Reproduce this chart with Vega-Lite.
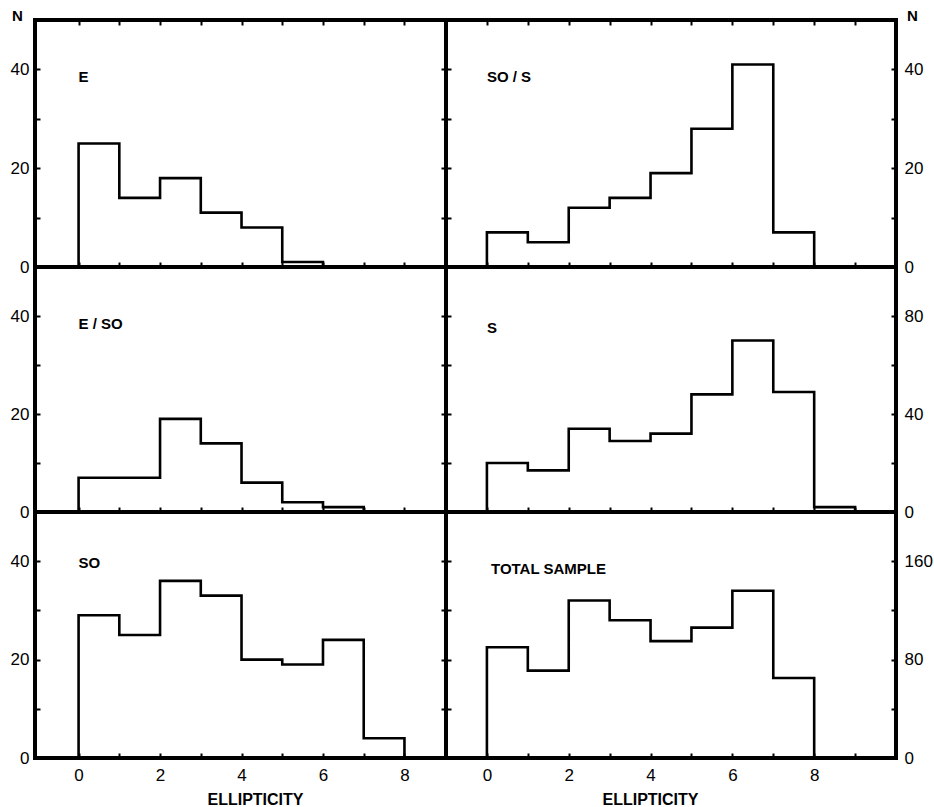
{
  "$schema": "https://vega.github.io/schema/vega-lite/v6.json",
  "padding": {"left": 8, "top": 6, "right": 4, "bottom": 2},
  "background": "white",
  "datasets": {
    "hist": [
      {"panel": "E", "lo": 0, "n": 25}, {"panel": "E", "lo": 1, "n": 14}, {"panel": "E", "lo": 2, "n": 18},
      {"panel": "E", "lo": 3, "n": 11}, {"panel": "E", "lo": 4, "n": 8}, {"panel": "E", "lo": 5, "n": 1},
      {"panel": "E", "lo": 6, "n": 0},
      {"panel": "SO/S", "lo": 0, "n": 7}, {"panel": "SO/S", "lo": 1, "n": 5}, {"panel": "SO/S", "lo": 2, "n": 12},
      {"panel": "SO/S", "lo": 3, "n": 14}, {"panel": "SO/S", "lo": 4, "n": 19}, {"panel": "SO/S", "lo": 5, "n": 28},
      {"panel": "SO/S", "lo": 6, "n": 41}, {"panel": "SO/S", "lo": 7, "n": 7}, {"panel": "SO/S", "lo": 8, "n": 0},
      {"panel": "E/SO", "lo": 0, "n": 7}, {"panel": "E/SO", "lo": 1, "n": 7}, {"panel": "E/SO", "lo": 2, "n": 19},
      {"panel": "E/SO", "lo": 3, "n": 14}, {"panel": "E/SO", "lo": 4, "n": 6}, {"panel": "E/SO", "lo": 5, "n": 2},
      {"panel": "E/SO", "lo": 6, "n": 1}, {"panel": "E/SO", "lo": 7, "n": 0},
      {"panel": "S", "lo": 0, "n": 20}, {"panel": "S", "lo": 1, "n": 17}, {"panel": "S", "lo": 2, "n": 34},
      {"panel": "S", "lo": 3, "n": 29}, {"panel": "S", "lo": 4, "n": 32}, {"panel": "S", "lo": 5, "n": 48},
      {"panel": "S", "lo": 6, "n": 70}, {"panel": "S", "lo": 7, "n": 49}, {"panel": "S", "lo": 8, "n": 2},
      {"panel": "S", "lo": 9, "n": 0},
      {"panel": "SO", "lo": 0, "n": 29}, {"panel": "SO", "lo": 1, "n": 25}, {"panel": "SO", "lo": 2, "n": 36},
      {"panel": "SO", "lo": 3, "n": 33}, {"panel": "SO", "lo": 4, "n": 20}, {"panel": "SO", "lo": 5, "n": 19},
      {"panel": "SO", "lo": 6, "n": 24}, {"panel": "SO", "lo": 7, "n": 4}, {"panel": "SO", "lo": 8, "n": 0},
      {"panel": "TOTAL", "lo": 0, "n": 90}, {"panel": "TOTAL", "lo": 1, "n": 71}, {"panel": "TOTAL", "lo": 2, "n": 128},
      {"panel": "TOTAL", "lo": 3, "n": 112}, {"panel": "TOTAL", "lo": 4, "n": 95}, {"panel": "TOTAL", "lo": 5, "n": 106},
      {"panel": "TOTAL", "lo": 6, "n": 136}, {"panel": "TOTAL", "lo": 7, "n": 65}, {"panel": "TOTAL", "lo": 8, "n": 0}
    ]
  },
  "columns": 2,
  "spacing": 0,
  "bounds": "flush",
  "concat": [
    {
      "width": 411, "height": 247,
      "layer": [
        {
          "data": {"name": "hist"},
          "transform": [{"filter": "datum.panel === 'E'"}],
          "mark": {"type": "area", "interpolate": "step-after", "fill": "white", "fillOpacity": 0, "stroke": "black", "strokeWidth": 2.6},
          "encoding": {
            "x": {"field": "lo", "type": "quantitative", "scale": {"domain": [-1.07, 9.02], "nice": false, "zero": false},
                  "axis": {"orient": "bottom", "values": [0, 1, 2, 3, 4, 5, 6, 7, 8], "labels": false, "title": null}},
            "y": {"field": "n", "type": "quantitative", "stack": null, "scale": {"domain": [0, 50], "nice": false},
                  "axis": {"orient": "left", "values": [0, 10, 20, 30, 40], "labelExpr": "datum.value % 20 === 0 ? datum.label : ''", "labelPadding": 11,
                           "title": "N", "titleAngle": 0, "titleX": -18, "titleY": 0, "titleAlign": "center", "titleBaseline": "alphabetic", "titleFontSize": 15}}
          }
        },
        {
          "data": {"values": [{"label": "E"}]},
          "mark": {"type": "text", "align": "left", "baseline": "middle", "font": "Liberation Sans", "fontWeight": "bold", "fontSize": 15},
          "encoding": {
            "x": {"datum": 0, "type": "quantitative", "axis": {"orient": "top", "values": [0, 1, 2, 3, 4, 5, 6, 7, 8], "labels": false, "title": null}},
            "y": {"datum": 38.4, "type": "quantitative", "axis": {"orient": "right", "values": [10, 20, 30, 40], "labels": false, "title": null}},
            "text": {"field": "label"}
          }
        }
      ],
      "resolve": {"axis": {"x": "independent", "y": "independent"}}
    },
    {
      "width": 450, "height": 247,
      "layer": [
        {
          "data": {"name": "hist"},
          "transform": [{"filter": "datum.panel === 'SO/S'"}],
          "mark": {"type": "area", "interpolate": "step-after", "fill": "white", "fillOpacity": 0, "stroke": "black", "strokeWidth": 2.6},
          "encoding": {
            "x": {"field": "lo", "type": "quantitative", "scale": {"domain": [-1, 10], "nice": false, "zero": false},
                  "axis": {"orient": "bottom", "values": [0, 1, 2, 3, 4, 5, 6, 7, 8, 9], "labels": false, "title": null}},
            "y": {"field": "n", "type": "quantitative", "stack": null, "scale": {"domain": [0, 50], "nice": false},
                  "axis": {"orient": "right", "values": [0, 10, 20, 30, 40], "labelExpr": "datum.value % 20 === 0 ? datum.label : ''", "labelPadding": 13,
                           "title": "N", "titleAngle": 0, "titleX": 16, "titleY": 0, "titleAlign": "center", "titleBaseline": "alphabetic", "titleFontSize": 15}}
          }
        },
        {
          "data": {"values": [{"label": "SO / S"}]},
          "mark": {"type": "text", "align": "left", "baseline": "middle", "font": "Liberation Sans", "fontWeight": "bold", "fontSize": 15},
          "encoding": {
            "x": {"datum": 0, "type": "quantitative", "axis": {"orient": "top", "values": [0, 1, 2, 3, 4, 5, 6, 7, 8, 9], "labels": false, "title": null}},
            "y": {"datum": 38.4, "type": "quantitative", "axis": {"orient": "left", "values": [10, 20, 30, 40], "labels": false, "title": null}},
            "text": {"field": "label"}
          }
        }
      ],
      "resolve": {"axis": {"x": "independent", "y": "independent"}}
    },
    {
      "width": 411, "height": 245,
      "layer": [
        {
          "data": {"name": "hist"},
          "transform": [{"filter": "datum.panel === 'E/SO'"}],
          "mark": {"type": "area", "interpolate": "step-after", "fill": "white", "fillOpacity": 0, "stroke": "black", "strokeWidth": 2.6},
          "encoding": {
            "x": {"field": "lo", "type": "quantitative", "scale": {"domain": [-1.07, 9.02], "nice": false, "zero": false},
                  "axis": {"orient": "bottom", "values": [0, 1, 2, 3, 4, 5, 6, 7, 8], "labels": false, "title": null}},
            "y": {"field": "n", "type": "quantitative", "stack": null, "scale": {"domain": [0, 50], "nice": false},
                  "axis": {"orient": "left", "values": [0, 10, 20, 30, 40], "labelExpr": "datum.value % 20 === 0 ? datum.label : ''", "labelPadding": 11, "title": null}}
          }
        },
        {
          "data": {"values": [{"label": "E / SO"}]},
          "mark": {"type": "text", "align": "left", "baseline": "middle", "font": "Liberation Sans", "fontWeight": "bold", "fontSize": 15},
          "encoding": {
            "x": {"datum": 0, "type": "quantitative", "axis": null},
            "y": {"datum": 38.4, "type": "quantitative", "axis": {"orient": "right", "values": [10, 20, 30, 40], "labels": false, "title": null}},
            "text": {"field": "label"}
          }
        }
      ],
      "resolve": {"axis": {"x": "independent", "y": "independent"}}
    },
    {
      "width": 450, "height": 245,
      "layer": [
        {
          "data": {"name": "hist"},
          "transform": [{"filter": "datum.panel === 'S'"}],
          "mark": {"type": "area", "interpolate": "step-after", "fill": "white", "fillOpacity": 0, "stroke": "black", "strokeWidth": 2.6},
          "encoding": {
            "x": {"field": "lo", "type": "quantitative", "scale": {"domain": [-1, 10], "nice": false, "zero": false},
                  "axis": {"orient": "bottom", "values": [0, 1, 2, 3, 4, 5, 6, 7, 8, 9], "labels": false, "title": null}},
            "y": {"field": "n", "type": "quantitative", "stack": null, "scale": {"domain": [0, 100], "nice": false},
                  "axis": {"orient": "right", "values": [0, 20, 40, 60, 80], "labelExpr": "datum.value % 40 === 0 ? datum.label : ''", "labelPadding": 13, "title": null}}
          }
        },
        {
          "data": {"values": [{"label": "S"}]},
          "mark": {"type": "text", "align": "left", "baseline": "middle", "font": "Liberation Sans", "fontWeight": "bold", "fontSize": 15},
          "encoding": {
            "x": {"datum": 0, "type": "quantitative", "axis": null},
            "y": {"datum": 75.3, "type": "quantitative", "axis": {"orient": "left", "values": [20, 40, 60, 80], "labels": false, "title": null}},
            "text": {"field": "label"}
          }
        }
      ],
      "resolve": {"axis": {"x": "independent", "y": "independent"}}
    },
    {
      "width": 411, "height": 246,
      "layer": [
        {
          "data": {"name": "hist"},
          "transform": [{"filter": "datum.panel === 'SO'"}],
          "mark": {"type": "area", "interpolate": "step-after", "fill": "white", "fillOpacity": 0, "stroke": "black", "strokeWidth": 2.6},
          "encoding": {
            "x": {"field": "lo", "type": "quantitative", "scale": {"domain": [-1.07, 9.02], "nice": false, "zero": false},
                  "axis": {"orient": "bottom", "values": [0, 1, 2, 3, 4, 5, 6, 7, 8], "labelExpr": "datum.value % 2 === 0 ? datum.label : ''", "labelPadding": 14,
                           "title": "ELLIPTICITY", "titleX": 220, "titleY": 46, "titleAlign": "center", "titleBaseline": "alphabetic"}},
            "y": {"field": "n", "type": "quantitative", "stack": null, "scale": {"domain": [0, 50], "nice": false},
                  "axis": {"orient": "left", "values": [0, 10, 20, 30, 40], "labelExpr": "datum.value % 20 === 0 ? datum.label : ''", "labelPadding": 11, "title": null}}
          }
        },
        {
          "data": {"values": [{"label": "SO"}]},
          "mark": {"type": "text", "align": "left", "baseline": "middle", "font": "Liberation Sans", "fontWeight": "bold", "fontSize": 15},
          "encoding": {
            "x": {"datum": 0, "type": "quantitative", "axis": null},
            "y": {"datum": 39.6, "type": "quantitative", "axis": {"orient": "right", "values": [10, 20, 30, 40], "labels": false, "title": null}},
            "text": {"field": "label"}
          }
        }
      ],
      "resolve": {"axis": {"x": "independent", "y": "independent"}}
    },
    {
      "width": 450, "height": 246,
      "layer": [
        {
          "data": {"name": "hist"},
          "transform": [{"filter": "datum.panel === 'TOTAL'"}],
          "mark": {"type": "area", "interpolate": "step-after", "fill": "white", "fillOpacity": 0, "stroke": "black", "strokeWidth": 2.6},
          "encoding": {
            "x": {"field": "lo", "type": "quantitative", "scale": {"domain": [-1, 10], "nice": false, "zero": false},
                  "axis": {"orient": "bottom", "values": [0, 1, 2, 3, 4, 5, 6, 7, 8, 9], "labelExpr": "datum.value % 2 === 0 ? datum.label : ''", "labelPadding": 14,
                           "title": "ELLIPTICITY", "titleX": 204, "titleY": 46, "titleAlign": "center", "titleBaseline": "alphabetic"}},
            "y": {"field": "n", "type": "quantitative", "stack": null, "scale": {"domain": [0, 200], "nice": false},
                  "axis": {"orient": "right", "values": [0, 40, 80, 120, 160], "labelExpr": "datum.value % 80 === 0 ? datum.label : ''", "labelPadding": 13, "title": null}}
          }
        },
        {
          "data": {"values": [{"label": "TOTAL SAMPLE"}]},
          "mark": {"type": "text", "align": "left", "baseline": "middle", "font": "Liberation Sans", "fontWeight": "bold", "fontSize": 15},
          "encoding": {
            "x": {"datum": 0.1, "type": "quantitative", "axis": null},
            "y": {"datum": 154, "type": "quantitative", "axis": {"orient": "left", "values": [40, 80, 120, 160], "labels": false, "title": null}},
            "text": {"field": "label"}
          }
        }
      ],
      "resolve": {"axis": {"x": "independent", "y": "independent"}}
    }
  ],
  "config": {
    "view": {"stroke": "black", "strokeWidth": 4},
    "axis": {
      "domain": false, "grid": false, "ticks": true,
      "tickColor": "black", "tickWidth": 2, "tickSize": -5,
      "labelFont": "Liberation Sans", "labelFontSize": 17, "labelColor": "black",
      "titleFont": "Liberation Sans", "titleFontSize": 16, "titleFontWeight": "bold", "titleColor": "black"
    }
  }
}
